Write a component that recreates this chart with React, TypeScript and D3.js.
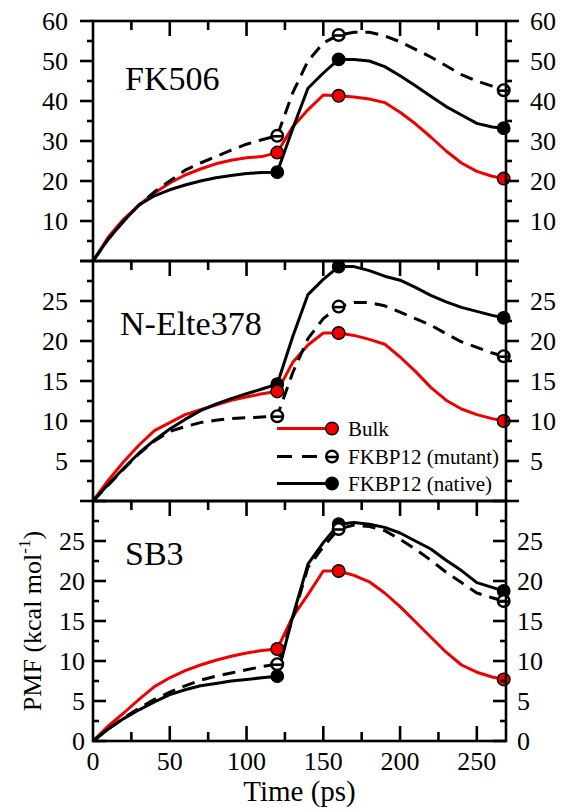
import React from "react";
import * as d3 from "d3";

// Time grid (ps) shared by every PMF profile
const time = [0, 10, 20, 30, 40, 50, 60, 70, 80, 90, 100, 110, 120, 130, 140, 150, 160, 170, 180, 190, 200, 210, 220, 230, 240, 250, 260, 267.5];

// Times at which the profiles carry a marker
const markerTimes = [120, 160, 267.5];

// FK506
const fk506Bulk = [0, 6, 10.5, 14, 17, 19.5, 21.5, 23, 24.3, 25.2, 25.8, 26.1, 27.1, 33.5, 37.8, 41.5, 41.3, 41, 40.5, 39.6, 37.2, 34.3, 31, 27.5, 24.5, 22.4, 21.2, 20.6];
const fk506Mutant = [0, 5.5, 10, 14, 17.3, 20, 22.7, 24.5, 26.1, 27.7, 29.2, 30.3, 31.3, 42, 50, 54.5, 56.5, 57.2, 57.2, 56.3, 54.8, 52.9, 51, 48.8, 46.6, 45, 43.7, 42.7];
const fk506Native = [0, 5.5, 10, 14, 16.3, 17.8, 19, 20, 20.8, 21.4, 21.9, 22.1, 22.2, 33, 43.2, 47, 50.4, 50.4, 50, 48.6, 46.3, 43.8, 41.2, 38.6, 36.5, 34.4, 33.5, 33.2];

// N-Elte378
const elteBulk = [0, 2.6, 4.9, 7, 8.8, 9.8, 10.8, 11.4, 12.0, 12.6, 13.0, 13.4, 13.7, 17.3, 19.5, 21, 21, 20.7, 20.2, 19.6, 18, 16.2, 14.2, 12.6, 11.5, 10.8, 10.3, 10];
const elteMutant = [0, 2, 4, 5.9, 7.5, 8.7, 9.3, 9.8, 10.1, 10.3, 10.4, 10.5, 10.6, 16, 20.3, 22.8, 24.3, 24.8, 24.8, 24.4, 23.6, 22.8, 22, 20.9, 19.9, 19.2, 18.5, 18.1];
const elteNative = [0, 2.1, 4.1, 6, 7.6, 9, 10.2, 11.3, 12.1, 12.8, 13.4, 14, 14.6, 20.5, 25.8, 27.7, 29.3, 29.3, 28.8, 28.1, 27.6, 26.7, 25.7, 24.9, 24.2, 23.7, 23.2, 22.9];

// SB3
const sb3Bulk = [0, 1.9, 3.5, 5.2, 6.8, 7.9, 8.8, 9.5, 10.1, 10.6, 11, 11.3, 11.5, 15.5, 18.3, 21.25, 21.25, 20.7, 19.9, 18.5, 16.8, 14.9, 13, 11.1, 9.5, 8.6, 8.0, 7.7];
const sb3Mutant = [0, 1.5, 2.9, 4.1, 5.2, 6.1, 6.9, 7.6, 8.1, 8.5, 8.9, 9.3, 9.6, 15.2, 21.7, 24.3, 26.5, 27, 26.8, 26.3, 25.2, 24, 22.6, 21.1, 19.8, 18.5, 17.9, 17.5];
const sb3Native = [0, 1.5, 2.8, 3.9, 4.9, 5.8, 6.4, 6.9, 7.2, 7.5, 7.7, 7.9, 8.1, 15.5, 22.1, 24.8, 27.1, 27.3, 27.1, 26.7, 26, 25, 24, 22.6, 21.3, 19.8, 19.2, 18.75];

const panelNames = ["FK506", "N-Elte378", "SB3"];
const panelMax = [60, 30, 30];
const panelMajorStep = [10, 5, 5];
const panelMinorStep = [5, 2.5, 2.5];
const panelLabels = [
  [10, 20, 30, 40, 50, 60],
  [5, 10, 15, 20, 25],
  [0, 5, 10, 15, 20, 25],
];
const panelSeries = [
  [fk506Bulk, fk506Mutant, fk506Native],
  [elteBulk, elteMutant, elteNative],
  [sb3Bulk, sb3Mutant, sb3Native],
];

const seriesNames = ["Bulk", "FKBP12 (mutant)", "FKBP12 (native)"];

const xMajorTicks = [50, 100, 150, 200, 250];
const xMinorTicks = [25, 75, 125, 175, 225];
const xLabels = [0, 50, 100, 150, 200, 250];

const W = 563;
const H = 810;
const LEFT = 93;
const RIGHT = 506;
const PANEL_TOP = 21;
const PANEL_H = 240;
const FONT = "'Liberation Serif', 'Times New Roman', serif";
const RED = "#f00000";

const x = d3.scaleLinear().domain([0, 269]).range([LEFT, RIGHT]);

function Marker({ kind, cx, cy }: { kind: number; cx: number; cy: number }) {
  const r = 6.3;
  if (kind === 0) {
    return <circle cx={cx} cy={cy} r={r} fill={RED} stroke="#000" strokeWidth={1.4} />;
  }
  if (kind === 2) {
    return <circle cx={cx} cy={cy} r={r} fill="#000" stroke="#000" strokeWidth={1.2} />;
  }
  return (
    <g>
      <circle cx={cx} cy={cy} r={r - 0.5} fill="#fff" stroke="#000" strokeWidth={2.4} />
      <line x1={cx - r + 1} x2={cx + r - 1} y1={cy + 0.5} y2={cy + 0.5} stroke="#000" strokeWidth={2.6} />
    </g>
  );
}

function lineStyle(kind: number) {
  if (kind === 0) return { stroke: RED, dash: undefined as string | undefined };
  if (kind === 1) return { stroke: "#000", dash: "13,8" };
  return { stroke: "#000", dash: undefined as string | undefined };
}

function Panel({ idx }: { idx: number }) {
  const top = PANEL_TOP + idx * PANEL_H;
  const bottom = top + PANEL_H;
  const y = d3.scaleLinear().domain([0, panelMax[idx]]).range([bottom, top]);
  const inward = idx === 2;
  const majorLen = 13;
  const minorLen = 6;
  const majors = d3.range(0, panelMax[idx] + 0.001, panelMajorStep[idx]);
  const minors = d3.range(panelMinorStep[idx], panelMax[idx], panelMajorStep[idx]);
  const dirL = inward ? 1 : -1;
  const dirR = inward ? -1 : 1;
  const leftLabelX = inward ? 85 : 68;
  const rightLabelX = inward ? 517 : 530;

  const line = d3
    .line<number>()
    .x((_, i) => x(time[i]))
    .y((v) => y(v))
    .curve(d3.curveLinear);

  const series = panelSeries[idx];

  return (
    <g>
      {/* data lines */}
      {series.map((vals, k) => {
        const st = lineStyle(k);
        return (
          <path
            key={"l" + k}
            d={line(vals) || ""}
            fill="none"
            stroke={st.stroke}
            strokeWidth={3}
            strokeDasharray={st.dash}
            strokeLinejoin="round"
          />
        );
      })}
      {/* markers: native, mutant, then bulk on top */}
      {[2, 1, 0].map((k) =>
        markerTimes.map((t) => {
          const i = time.indexOf(t);
          return <Marker key={"m" + k + "-" + t} kind={k} cx={x(t)} cy={y(series[k][i])} />;
        })
      )}
      {/* frame */}
      <rect x={LEFT} y={top} width={RIGHT - LEFT} height={PANEL_H} fill="none" stroke="#000" strokeWidth={2.6} />
      {/* y ticks */}
      {majors.map((v) => (
        <g key={"yM" + v}>
          <line x1={LEFT} x2={LEFT + dirL * majorLen} y1={y(v)} y2={y(v)} stroke="#000" strokeWidth={2.6} />
          <line x1={RIGHT} x2={RIGHT + dirR * majorLen} y1={y(v)} y2={y(v)} stroke="#000" strokeWidth={2.6} />
        </g>
      ))}
      {minors.map((v) => (
        <g key={"ym" + v}>
          <line x1={LEFT} x2={LEFT + dirL * minorLen} y1={y(v)} y2={y(v)} stroke="#000" strokeWidth={2.6} />
          <line x1={RIGHT} x2={RIGHT + dirR * minorLen} y1={y(v)} y2={y(v)} stroke="#000" strokeWidth={2.6} />
        </g>
      ))}
      {/* y tick labels */}
      {panelLabels[idx].map((v) => (
        <g key={"yl" + v} fontFamily={FONT} fontSize={26} fill="#000">
          <text x={leftLabelX} y={y(v)} dy="0.34em" textAnchor="end">{v}</text>
          <text x={rightLabelX} y={y(v)} dy="0.34em" textAnchor="start">{v}</text>
        </g>
      ))}
      {/* x ticks on the top edge, pointing inward */}
      {xMajorTicks.map((t) => (
        <line key={"xM" + t} x1={x(t)} x2={x(t)} y1={top} y2={top + 15} stroke="#000" strokeWidth={2.6} />
      ))}
      {xMinorTicks.map((t) => (
        <line key={"xm" + t} x1={x(t)} x2={x(t)} y1={top} y2={top + 9} stroke="#000" strokeWidth={2.6} />
      ))}
      {idx === 2 && (
        <g>
          {xMajorTicks.map((t) => (
            <line key={"bxM" + t} x1={x(t)} x2={x(t)} y1={bottom} y2={bottom - 15} stroke="#000" strokeWidth={2.6} />
          ))}
          {xMinorTicks.map((t) => (
            <line key={"bxm" + t} x1={x(t)} x2={x(t)} y1={bottom} y2={bottom - 9} stroke="#000" strokeWidth={2.6} />
          ))}
          {xLabels.map((t) => (
            <text key={"xl" + t} x={x(t)} y={bottom + 29} textAnchor="middle" fontFamily={FONT} fontSize={26}>
              {t}
            </text>
          ))}
        </g>
      )}
      {/* panel title */}
      <text
        x={idx === 1 ? 120 : 125}
        y={top + (idx === 0 ? 69 : idx === 1 ? 74 : 64)}
        fontFamily={FONT}
        fontSize={34}
      >
        {panelNames[idx]}
      </text>
    </g>
  );
}

function Legend() {
  const rows = [428.5, 456.5, 483.5];
  return (
    <g>
      {seriesNames.map((name, k) => {
        const st = lineStyle(k);
        const cy = rows[k];
        return (
          <g key={name}>
            <line
              x1={277}
              x2={332}
              y1={cy}
              y2={cy}
              stroke={st.stroke}
              strokeWidth={3}
              strokeDasharray={k === 1 ? "15,10" : undefined}
            />
            <Marker kind={k} cx={332} cy={cy} />
            <text x={348} y={cy + 7} fontFamily={FONT} fontSize={21}>
              {name}
            </text>
          </g>
        );
      })}
    </g>
  );
}

export default function App() {
  return (
    <svg
      width={W}
      height={H}
      viewBox={`0 0 ${W} ${H}`}
      style={{ position: "absolute", left: 0, top: 0, background: "#fff" }}
    >
      <rect x={0} y={0} width={W} height={H} fill="#fff" />
      {[0, 1, 2].map((i) => (
        <Panel key={i} idx={i} />
      ))}
      <Legend />
      <text x={(LEFT + RIGHT) / 2} y={801} textAnchor="middle" fontFamily={FONT} fontSize={29}>
        Time (ps)
      </text>
      <text
        transform={`translate(41, ${PANEL_TOP + 2.5 * PANEL_H}) rotate(-90)`}
        textAnchor="middle"
        fontFamily={FONT}
        fontSize={26}
      >
        PMF (kcal mol
        <tspan fontSize={17} dy={-11}>-1</tspan>
        <tspan dy={11}>)</tspan>
      </text>
    </svg>
  );
}
